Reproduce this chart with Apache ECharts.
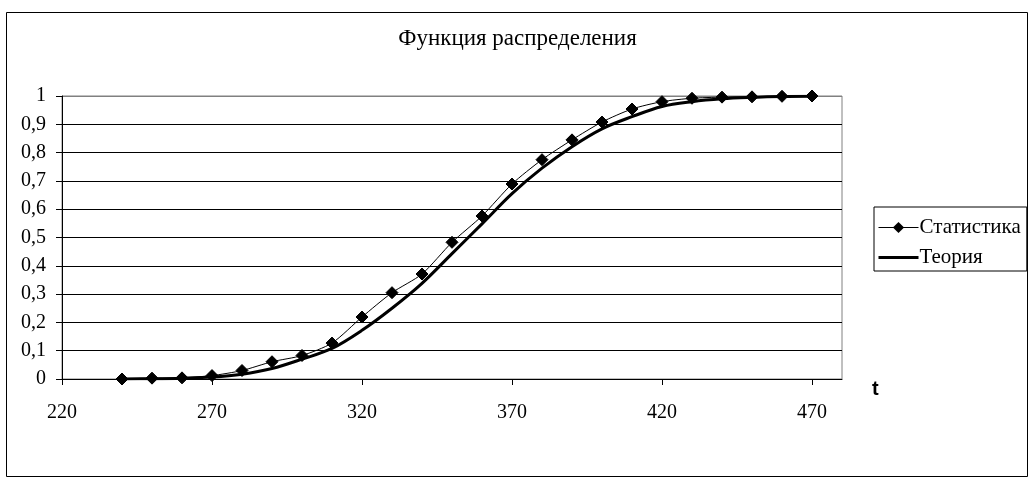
<!DOCTYPE html>
<html>
<head>
<meta charset="utf-8">
<script src="https://cdn.jsdelivr.net/npm/echarts@6/dist/echarts.min.js"></script>
<style>
html,body{margin:0;padding:0;background:#fff;}
#c{width:1035px;height:483px;}
</style>
</head>
<body>
<div id="c"></div>
<script>
const titleText = 'Функция распределения';
const seriesNames = ['Статистика', 'Теория'];
const tValues = [240,250,260,270,280,290,300,310,320,330,340,350,360,370,380,390,400,410,420,430,440,450,460,470];
const statValues = [0,0.003,0.004,0.012,0.03,0.061,0.083,0.127,0.219,0.305,0.371,0.483,0.576,0.689,0.775,0.845,0.908,0.954,0.98,0.992,0.996,0.997,0.999,1];
const theoryValues = [0,0.001,0.003,0.007,0.017,0.037,0.07,0.108,0.172,0.25,0.338,0.443,0.548,0.655,0.745,0.821,0.884,0.927,0.963,0.98,0.99,0.995,0.998,0.999];
const xAxisName = 't';

const serif = '"Liberation Serif", "DejaVu Serif", serif';
const chart = echarts.init(document.getElementById('c'));
const splitColors = ['#000','#000','#000','#000','#000','#000','#000','#000','#000','#000','#808080'];
chart.setOption({
  animation: false,
  backgroundColor: '#fff',
  title: {
    text: titleText, left: 'center', top: 22,
    textStyle: {fontFamily: serif, fontSize: 23, fontWeight: 'normal', color: '#000'}
  },
  graphic: [{
    type: 'rect', shape: {x: 6.5, y: 12.5, width: 1021, height: 464},
    style: {fill: 'none', stroke: '#000', lineWidth: 1}, silent: true, z: -1
  }],
  legend: {
    orient: 'vertical', left: 874, top: 207,
    backgroundColor: '#fff',
    borderColor: '#000', borderWidth: 1, borderRadius: 0,
    padding: [10, 6, 3, 3], itemGap: 9,
    itemWidth: 40, itemHeight: 14,
    textStyle: {fontFamily: serif, fontSize: 21, color: '#000', padding: [0,0,0,-4]},
    data: [
      {name: seriesNames[0], lineStyle: {width: 1}},
      {name: seriesNames[1], itemStyle: {opacity: 0}, lineStyle: {width: 3}}
    ]
  },
  grid: {
    left: 62, right: 193, top: 96, bottom: 104,
    show: true, borderColor: '#808080', borderWidth: 1, backgroundColor: '#fff'
  },
  xAxis: {
    type: 'value', min: 220, max: 480, interval: 50,
    name: xAxisName, nameLocation: 'end', nameGap: 30,
    nameTextStyle: {fontFamily: '"Liberation Sans", Arial, sans-serif', fontSize: 20, fontWeight: 'bold', color: '#000', verticalAlign: 'top', align: 'left'},
    axisLine: {show: true, lineStyle: {color: '#000', width: 1}},
    axisTick: {show: true, inside: false, length: 6, lineStyle: {color: '#000'}},
    axisLabel: {showMaxLabel: false, margin: 24, fontFamily: serif, fontSize: 20, color: '#000'},
    splitLine: {show: false}
  },
  yAxis: {
    type: 'value', min: 0, max: 1, interval: 0.1,
    axisLine: {show: true, lineStyle: {color: '#000', width: 1}},
    axisTick: {show: true, inside: false, length: 6, lineStyle: {color: '#000'}},
    axisLabel: {margin: 16, fontFamily: serif, fontSize: 20, color: '#000',
      formatter: v => String(Math.round(v * 10) / 10).replace('.', ',')},
    splitLine: {show: true, lineStyle: {color: splitColors, width: 1}}
  },
  series: [
    {
      name: seriesNames[0], type: 'line',
      data: tValues.map((t, i) => [t, statValues[i]]),
      smooth: 0.25,
      symbol: 'diamond', symbolSize: 12,
      lineStyle: {color: '#000', width: 1},
      itemStyle: {color: '#000', borderColor: '#000'},
      z: 3
    },
    {
      name: seriesNames[1], type: 'line',
      data: tValues.map((t, i) => [t, theoryValues[i]]),
      smooth: 0.35,
      symbol: 'none',
      lineStyle: {color: '#000', width: 3},
      itemStyle: {color: '#000'},
      z: 2
    }
  ]
});
</script>
</body>
</html>
